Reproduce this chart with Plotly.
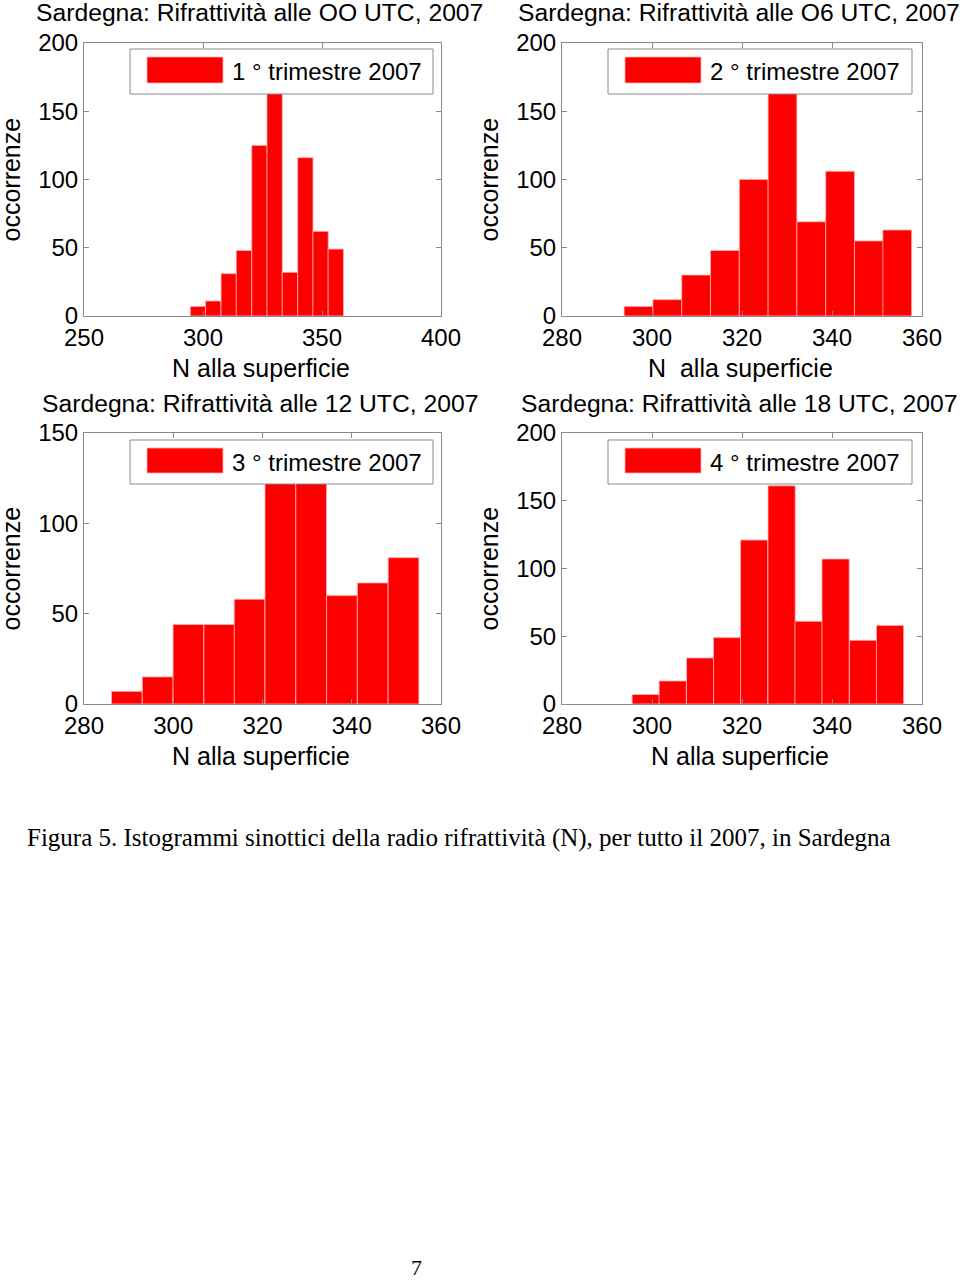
import plotly.graph_objects as go

# ---- data ----
titles = ["Sardegna: Rifrattività alle OO UTC, 2007",
          "Sardegna: Rifrattività alle O6 UTC, 2007",
          "Sardegna: Rifrattività alle 12 UTC, 2007",
          "Sardegna: Rifrattività alle 18 UTC, 2007"]
legend_labels = ["1 ° trimestre 2007", "2 ° trimestre 2007",
                 "3 ° trimestre 2007", "4 ° trimestre 2007"]
xlabels = ["N alla superficie", "N\u00a0 alla superficie",
           "N alla superficie", "N alla superficie"]

centers_q1 = [297.9, 304.3, 310.8, 317.2, 323.7, 330.1, 336.5, 343.0, 349.4, 355.8]
counts_q1 = [7, 11, 31, 48, 125, 175, 32, 116, 62, 49]
width_q1 = 6.44

centers_q2 = [297.0, 303.4, 309.8, 316.2, 322.6, 329.0, 335.4, 341.8, 348.2, 354.5]
counts_q2 = [7, 12, 30, 48, 100, 175, 69, 106, 55, 63]
width_q2 = 6.39

centers_q3 = [289.6, 296.5, 303.4, 310.3, 317.1, 324.0, 330.9, 337.8, 344.7, 351.6]
counts_q3 = [7, 15, 44, 44, 58, 130, 130, 60, 67, 81]
width_q3 = 6.88

centers_q4 = [298.6, 304.6, 310.7, 316.7, 322.7, 328.8, 334.8, 340.8, 346.9, 352.9]
counts_q4 = [7, 17, 34, 49, 121, 161, 61, 107, 47, 58]
width_q4 = 6.04

x_ranges = [[250, 400], [280, 360], [280, 360], [280, 360]]
x_dticks = [50, 20, 20, 20]
y_ranges = [[0, 200], [0, 200], [0, 150], [0, 200]]

caption = "Figura 5. Istogrammi sinottici della radio rifrattività (N), per tutto il 2007, in Sardegna"
page_number = "7"

# ---- layout geometry (pixels) ----
W, H = 960, 1280
# axes boxes: (left, top, right, bottom)
boxes = [(84, 43, 441, 316), (562, 43, 922, 316),
         (84, 433, 441, 704), (562, 433, 922, 704)]
legend_boxes = [(130, 49, 433, 94), (608, 49, 912, 94),
                (130, 440, 433, 484), (608, 440, 912, 484)]

FONT = "Liberation Sans, Arial, Helvetica, sans-serif"
SERIF = "Liberation Serif, Times New Roman, serif"
FS = 24      # tick labels / legend
FT = 24.7    # titles
FL = 25      # axis labels
AXCOL = "#8a8a8a"
RED = "#ff0000"
EDGE = "#ffb0b0"


def px(x):
    return x / W


def py(y):
    return 1 - y / H


series = [(centers_q1, counts_q1, width_q1), (centers_q2, counts_q2, width_q2),
          (centers_q3, counts_q3, width_q3), (centers_q4, counts_q4, width_q4)]

fig = go.Figure()
layout = dict(template="none", width=W, height=H, autosize=False,
              margin=dict(l=0, r=0, t=0, b=0, pad=0),
              paper_bgcolor="white", plot_bgcolor="white",
              showlegend=False, bargap=0,
              font=dict(family=FONT, size=FS, color="black"))
annotations = []
shapes = []

for i, (c, n, w) in enumerate(series):
    k = "" if i == 0 else str(i + 1)
    fig.add_trace(go.Bar(x=c, y=n, width=[w] * len(c),
                         marker=dict(color=RED, line=dict(color=EDGE, width=0.8)),
                         xaxis="x" + k, yaxis="y" + k, name=legend_labels[i]))
    l, t, r, b = boxes[i]
    axcommon = dict(showline=True, mirror="ticks", linecolor=AXCOL, linewidth=1,
                    ticks="inside", ticklen=5, tickcolor=AXCOL, showgrid=False,
                    zeroline=False, automargin=False,
                    tickfont=dict(family=FONT, size=FS, color="black"),
                    fixedrange=True)
    layout["xaxis" + k] = dict(axcommon, domain=[px(l), px(r)], range=x_ranges[i],
                               dtick=x_dticks[i], tick0=0, anchor="y" + k)
    layout["yaxis" + k] = dict(axcommon, domain=[py(b), py(t)], range=y_ranges[i],
                               dtick=50, tick0=0, anchor="x" + k)
    cx = (l + r) / 2
    # title
    annotations.append(dict(text=titles[i], x=px(cx - 3), y=py(t - 30), xref="paper", yref="paper",
                            showarrow=False, xanchor="center", yanchor="middle",
                            font=dict(family=FONT, size=FT, color="black")))
    # x label
    annotations.append(dict(text=xlabels[i], x=px(cx - 2), y=py(b + 52), xref="paper", yref="paper",
                            showarrow=False, xanchor="center", yanchor="middle",
                            font=dict(family=FONT, size=FL, color="black")))
    # y label
    annotations.append(dict(text="occorrenze", x=px(l - 74), y=py((t + b) / 2), xref="paper",
                            yref="paper", showarrow=False, textangle=-90,
                            xanchor="center", yanchor="middle", borderpad=0,
                            font=dict(family=FONT, size=FL, color="black")))
    # legend box
    ll, lt, lr, lb = legend_boxes[i]
    shapes.append(dict(type="rect", xref="paper", yref="paper",
                       x0=px(ll), x1=px(lr), y0=py(lb), y1=py(lt),
                       fillcolor="white", line=dict(color=AXCOL, width=1), layer="above"))
    shapes.append(dict(type="rect", xref="paper", yref="paper",
                       x0=px(ll + 17), x1=px(ll + 93), y0=py(lb - 11), y1=py(lt + 8),
                       fillcolor=RED, line=dict(color=EDGE, width=0.8), layer="above"))
    annotations.append(dict(text=legend_labels[i], x=px(ll + 100), y=py((lt + lb) / 2),
                            xref="paper", yref="paper", showarrow=False,
                            xanchor="left", yanchor="middle",
                            font=dict(family=FONT, size=FS, color="black")))

annotations.append(dict(text=caption, x=px(25), y=py(838), xref="paper", yref="paper",
                        showarrow=False, xanchor="left", yanchor="middle",
                        font=dict(family=SERIF, size=25, color="black")))
annotations.append(dict(text=page_number, x=px(416), y=py(1267), xref="paper", yref="paper",
                        showarrow=False, xanchor="center", yanchor="middle", borderpad=0,
                        font=dict(family=SERIF, size=22, color="black")))

layout["annotations"] = annotations
layout["shapes"] = shapes
fig.update_layout(**layout)
fig.write_html("out.html",
               config={"displayModeBar": False, "staticPlot": True},
               post_script="document.body.style.margin='0px';document.body.style.overflow='hidden';")
